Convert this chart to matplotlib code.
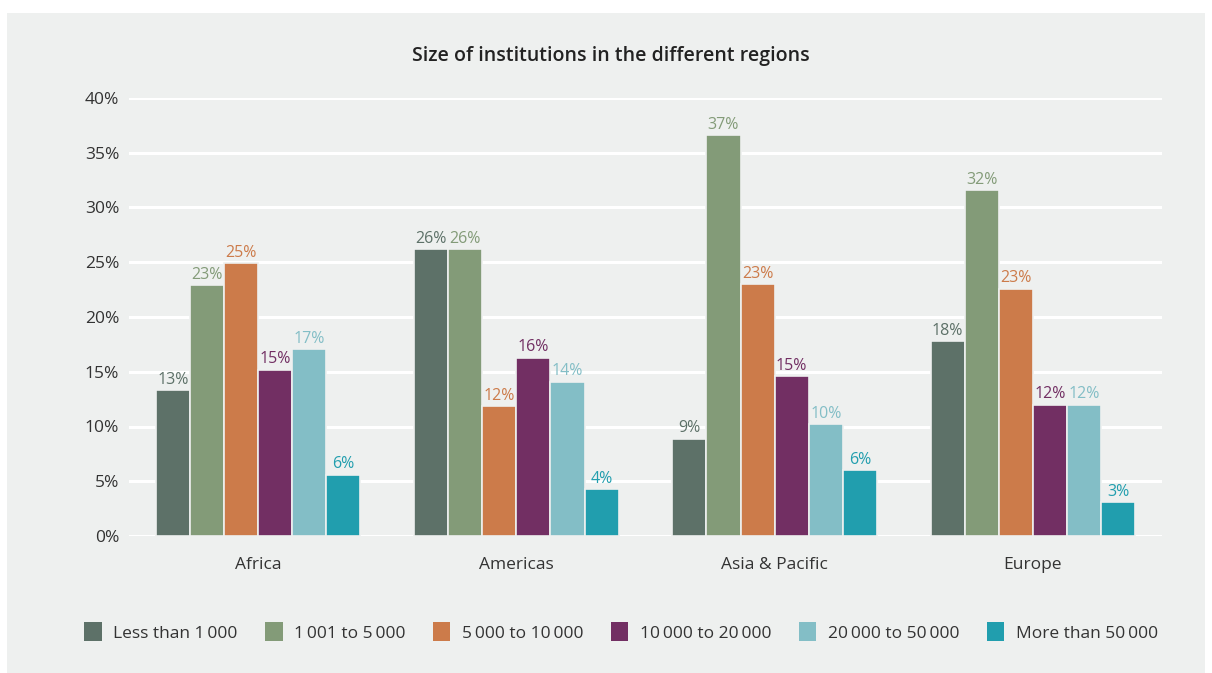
import matplotlib
matplotlib.use("Agg")
import matplotlib.pyplot as plt
import numpy as np
from matplotlib.patches import Rectangle

regions = ["Africa", "Americas", "Asia & Pacific", "Europe"]
series = ["Less than 1\u2009000", "1\u2009001 to 5\u2009000", "5\u2009000 to 10\u2009000",
          "10\u2009000 to 20\u2009000", "20\u2009000 to 50\u2009000", "More than 50\u2009000"]
less_1000 = [13.3, 26.2, 8.9, 17.8]
s1001_5000 = [22.9, 26.2, 36.6, 31.6]
s5000_10000 = [24.9, 11.9, 23.0, 22.6]
s10000_20000 = [15.2, 16.3, 14.6, 12.0]
s20000_50000 = [17.1, 14.1, 10.2, 12.0]
more_50000 = [5.6, 4.3, 6.0, 3.1]
yticks = [0, 5, 10, 15, 20, 25, 30, 35, 40]

data = [less_1000, s1001_5000, s5000_10000, s10000_20000, s20000_50000, more_50000]
colors = ["#5d7168", "#839b78", "#cc7b4a", "#722f63", "#83bec6", "#219eae"]
bg = "#eef0ef"
txt = "#333333"

plt.rcParams['font.family'] = ['Open Sans', 'DejaVu Sans']

fig = plt.figure(figsize=(12.12, 6.73), dpi=100)
fig.patch.set_facecolor("white")
fig.patches.append(Rectangle((7/1212, 0), (1205-7)/1212, (673-13)/673,
                             transform=fig.transFigure, facecolor=bg, edgecolor="none", zorder=-10))

ax = fig.add_axes([129/1212, (673-536)/673, (1162-129)/1212, (536-98)/673])
ax.set_facecolor(bg)
ax.patch.set_alpha(0)

x = np.arange(len(regions))
stride = 34/257.5
for i, (vals, c) in enumerate(zip(data, colors)):
    pos = x + (i - 2.5) * stride
    ax.bar(pos, vals, width=stride, color=c, edgecolor=bg, linewidth=1.2, zorder=3)
    for p, v in zip(pos, vals):
        ax.text(p, v + 0.2, f"{v:.0f}%", ha="center", va="bottom", fontsize=11.5,
                color=c, zorder=4)

ax.set_xlim(-0.5, 3.5)
ax.set_ylim(0, 40)
ax.set_yticks(yticks)
ax.set_yticklabels([f"{t}%" for t in yticks], fontsize=12.5, color=txt)
ax.set_xticks(x)
ax.set_xticklabels(regions, fontsize=12.5, color=txt)
ax.tick_params(axis="both", length=0)
ax.tick_params(axis="x", pad=15)
ax.tick_params(axis="y", pad=7)
for s in ax.spines.values():
    s.set_visible(False)
ax.yaxis.grid(True, color="white", linewidth=2.2, zorder=1)
ax.set_axisbelow(True)

fig.text(611/1212, (673-56)/673, "Size of institutions in the different regions", ha="center",
         va="center", fontsize=14, fontweight="semibold", color="#222222")

handles = [Rectangle((0, 0), 1, 1, facecolor=c, edgecolor="none") for c in colors]
fig.legend(handles, series, loc="center", bbox_to_anchor=(621/1212, (673-632)/673), ncol=6,
           frameon=False, fontsize=12.5, handlelength=1.0, handleheight=1.3,
           handletextpad=0.65, columnspacing=1.6, labelcolor=txt)

fig.savefig("out.png", dpi=100, facecolor=fig.get_facecolor())
